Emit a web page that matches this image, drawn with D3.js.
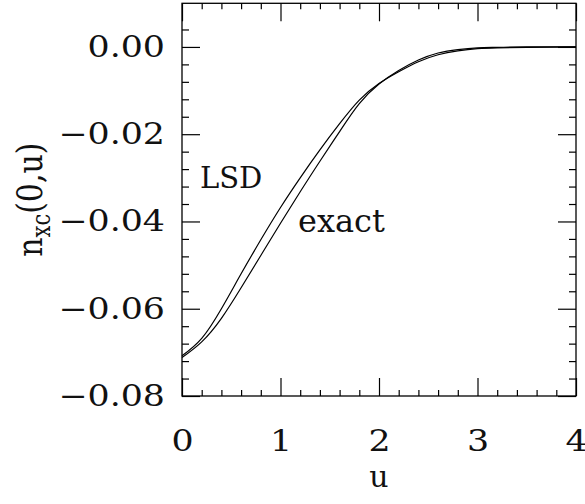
<!DOCTYPE html>
<html>
<head>
<meta charset="utf-8">
<script src="https://cdn.jsdelivr.net/npm/d3@7"></script>
<style>
body{margin:0;background:#fff;}
svg text{font-family:"DejaVu Serif",serif;fill:#111;}
.axis path{display:none;}
.axis line{stroke:#000;stroke-width:1.2;}
.frame{fill:none;stroke:#000;stroke-width:1.3;}
.curve{fill:none;stroke:#000;stroke-width:1.2;}
</style>
</head>
<body>
<div class="content"></div>
<script>
// values
var uValues = [0, 0.2, 0.4, 0.6, 0.8, 1.0, 1.2, 1.4, 1.6, 1.8, 2.0, 2.2, 2.4, 2.6, 2.8, 3.0, 3.2, 3.5, 4.0];
var lsdValues = [-0.0708, -0.0668, -0.0600, -0.0520, -0.0442, -0.0368, -0.0300, -0.0236, -0.0176, -0.0122, -0.0084, -0.0057, -0.0034, -0.0018, -0.0009, -0.0004, -0.0002, -0.0001, 0];
var exactValues = [-0.0712, -0.0676, -0.0622, -0.0552, -0.0478, -0.0404, -0.0332, -0.0262, -0.0194, -0.0130, -0.0085, -0.0054, -0.0030, -0.0014, -0.0006, -0.0002, -0.0001, 0, 0];

var xTicks = [0, 1, 2, 3, 4];
var yTicks = [0, -0.02, -0.04, -0.06, -0.08];
var xMinorTicks = [0.2, 0.4, 0.6, 0.8, 1.2, 1.4, 1.6, 1.8, 2.2, 2.4, 2.6, 2.8, 3.2, 3.4, 3.6, 3.8];
var yMinorTicks = [-0.076, -0.072, -0.068, -0.064, -0.056, -0.052, -0.048, -0.044, -0.036, -0.032, -0.028, -0.024, -0.016, -0.012, -0.008, -0.004, 0.004];

var fullWidth = 585, fullHeight = 504;
var margin = {top: 3.3, right: 9, bottom: 108, left: 182};
var width = fullWidth - margin.left - margin.right;
var height = fullHeight - margin.top - margin.bottom;
var stretch = 1.2;

var svg = d3.select("div.content").append("svg")
    .attr("width", fullWidth)
    .attr("height", fullHeight)
  .append("g")
    .attr("transform", "translate(" + margin.left + "," + margin.top + ")");

var x = d3.scaleLinear().domain([0, 4]).range([0, width]);
var y = d3.scaleLinear().domain([-0.08, 0.01]).range([height, 0]);
var fmt = d3.format(".2f");

//frame
svg.append("rect").attr("class", "frame")
    .attr("width", width).attr("height", height);

//minor ticks on all sides
svg.append("g").attr("class", "axis")
    .attr("transform", "translate(0," + height + ")")
    .call(d3.axisBottom(x).tickValues(xMinorTicks).tickSize(-6).tickFormat(""));
svg.append("g").attr("class", "axis")
    .call(d3.axisTop(x).tickValues(xMinorTicks).tickSize(-6).tickFormat(""));
svg.append("g").attr("class", "axis")
    .call(d3.axisLeft(y).tickValues(yMinorTicks).tickSize(-7).tickFormat(""));
svg.append("g").attr("class", "axis")
    .attr("transform", "translate(" + width + ",0)")
    .call(d3.axisRight(y).tickValues(yMinorTicks).tickSize(-7).tickFormat(""));

//major ticks
var xAxis = svg.append("g").attr("class", "axis x-axis")
    .attr("transform", "translate(0," + height + ")")
    .call(d3.axisBottom(x).tickValues(xTicks).tickSize(-18).tickPadding(34).tickFormat(d3.format("d")));
svg.append("g").attr("class", "axis")
    .call(d3.axisTop(x).tickValues(xTicks).tickSize(-18).tickFormat(""));
var yAxis = svg.append("g").attr("class", "axis y-axis")
    .call(d3.axisLeft(y).tickValues(yTicks).tickSize(-18).tickPadding(17).tickFormat(fmt));
svg.append("g").attr("class", "axis")
    .attr("transform", "translate(" + width + ",0)")
    .call(d3.axisRight(y).tickValues(yTicks).tickSize(-18).tickFormat(""));

xAxis.selectAll("text")
    .attr("font-size", 29).attr("font-family", null)
    .attr("transform", "scale(" + stretch + ",1)");
yAxis.selectAll("text")
    .attr("font-size", 29).attr("font-family", null)
    .attr("x", -17 / stretch)
    .attr("transform", "scale(" + stretch + ",1)");

//curves
var line = d3.line()
    .x(function(d){return x(d[0]);})
    .y(function(d){return y(d[1]);})
    .curve(d3.curveNatural);

svg.append("path").attr("class", "curve")
    .datum(d3.zip(uValues, lsdValues))
    .attr("d", line);
svg.append("path").attr("class", "curve")
    .datum(d3.zip(uValues, exactValues))
    .attr("d", line);

//curve labels
svg.append("text")
    .attr("x", 200 - margin.left).attr("y", 188 - margin.top)
    .attr("font-size", 29)
    .text("LSD");
svg.append("text")
    .attr("x", 298 - margin.left).attr("y", 231.7 - margin.top)
    .attr("font-size", 32)
    .text("exact");

//x-label
svg.append("text")
    .attr("transform", "translate(" + (width / 2) + "," + (487 - margin.top) + ")")
    .attr("font-size", 30)
    .style("text-anchor", "middle")
    .text("u");

//y-label
var yLabel = svg.append("text")
    .attr("transform", "translate(" + (42 - margin.left) + "," + (height / 2) + ") rotate(-90) scale(1," + stretch + ")")
    .attr("font-size", 30)
    .style("text-anchor", "middle");
yLabel.append("tspan").text("n");
yLabel.append("tspan").attr("font-size", 21).attr("dy", 7).text("xc");
yLabel.append("tspan").attr("dy", -7).text("(0,u)");
</script>
</body>
</html>
